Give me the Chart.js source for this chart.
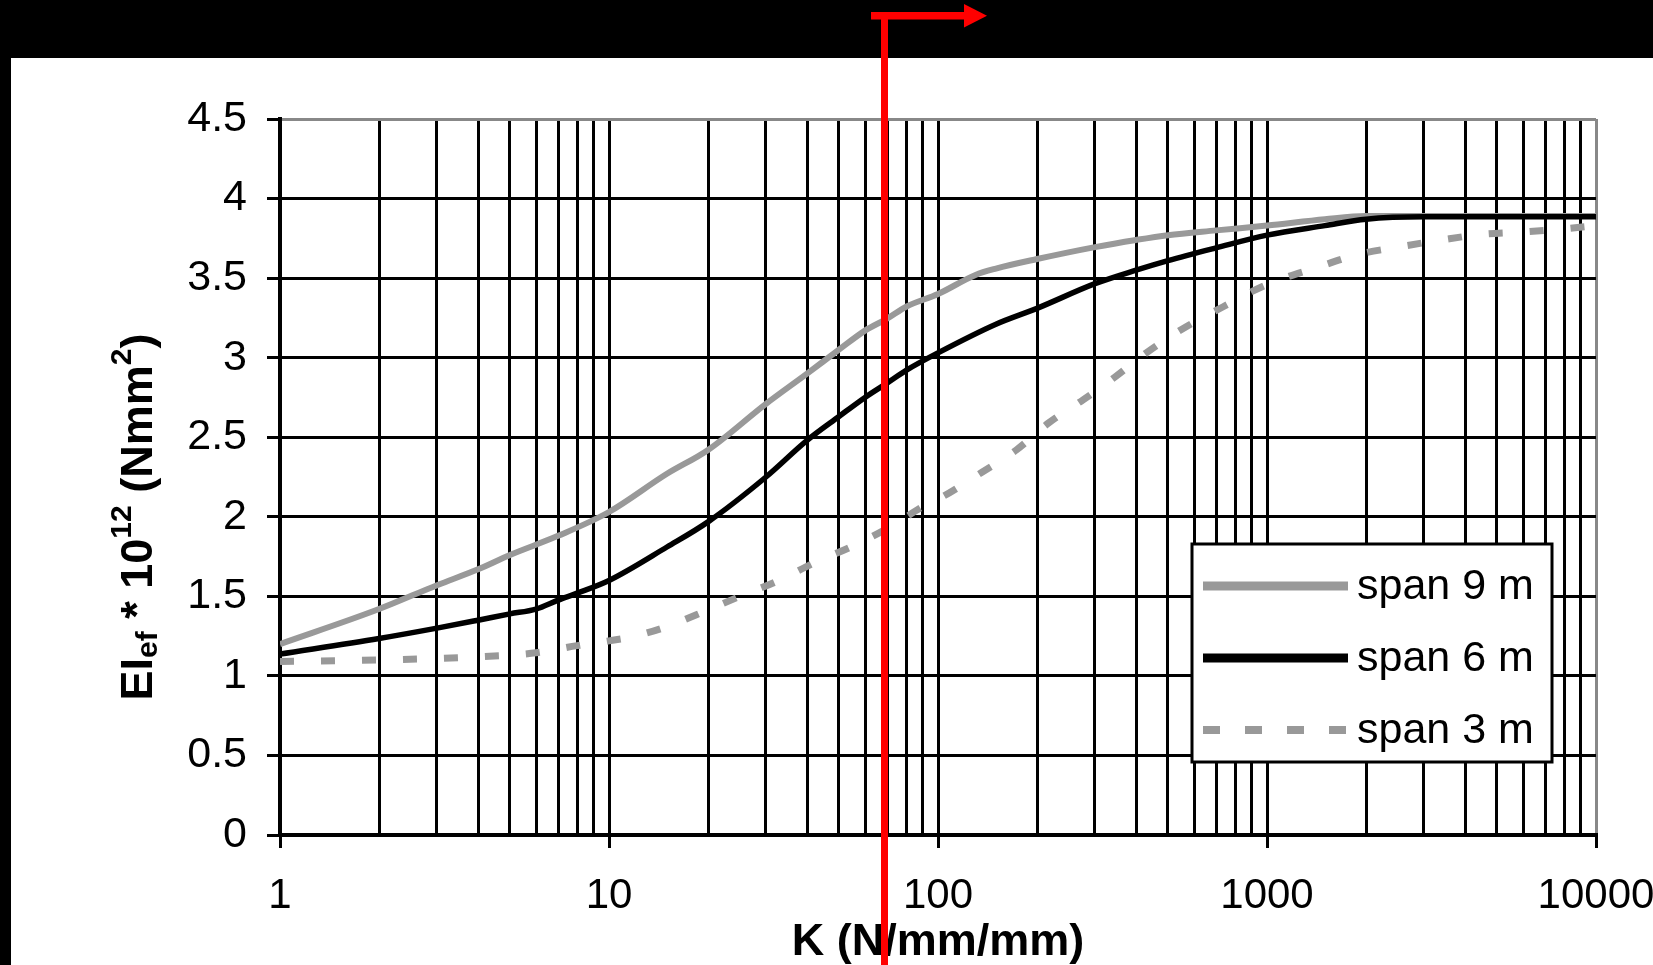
<!DOCTYPE html>
<html>
<head>
<meta charset="utf-8">
<title>EIef vs K</title>
<script src="https://cdn.jsdelivr.net/npm/chart.js@4.4.1/dist/chart.umd.min.js"></script>
<style>
  html, body { margin: 0; padding: 0; background: #000; overflow: hidden; }
  canvas { display: block; }
</style>
</head>
<body>
<canvas id="chart" width="1653" height="965"></canvas>
<script>
const ctx = document.getElementById('chart');

// values (K in N/mm/mm, EIef * 10^12 in Nmm^2)
const k9  = [1, 2, 3, 4, 5, 7, 10, 15, 20, 30, 40, 50, 60, 70, 80, 100, 130, 150, 200, 300, 400, 500, 700, 1000, 1500, 2000, 3000, 5000, 10000];
const ef9 = [1.20, 1.42, 1.57, 1.67, 1.76, 1.88, 2.03, 2.27, 2.42, 2.71, 2.90, 3.05, 3.17, 3.245, 3.32, 3.40, 3.52, 3.56, 3.62, 3.695, 3.74, 3.77, 3.80, 3.83, 3.87, 3.89, 3.89, 3.89, 3.89];

const k6  = [1, 2, 3, 4, 5, 6, 7, 8, 10, 15, 20, 30, 40, 50, 60, 70, 80, 100, 150, 200, 300, 400, 500, 700, 1000, 1500, 2000, 3000, 10000];
const ef6 = [1.137, 1.235, 1.30, 1.35, 1.39, 1.42, 1.476, 1.52, 1.60, 1.81, 1.968, 2.25, 2.48, 2.63, 2.75, 2.84, 2.92, 3.03, 3.21, 3.31, 3.465, 3.55, 3.61, 3.69, 3.77, 3.83, 3.87, 3.885, 3.885];

const k3  = [1, 2, 3, 4, 5, 6, 8, 10, 12, 15, 20, 25, 32, 42, 55, 72, 91, 104, 136, 173, 217, 276, 346, 436, 563, 736, 1000, 1410, 1900, 2500, 3400, 4500, 6000, 8000, 10000];
const ef3 = [1.09, 1.10, 1.11, 1.12, 1.13, 1.145, 1.19, 1.22, 1.25, 1.31, 1.415, 1.50, 1.59, 1.71, 1.815, 1.94, 2.07, 2.13, 2.28, 2.42, 2.59, 2.735, 2.88, 3.04, 3.19, 3.32, 3.46, 3.565, 3.65, 3.695, 3.74, 3.775, 3.79, 3.81, 3.83];

const seriesLabels = ['span 9 m', 'span 6 m', 'span 3 m'];

const yTickValues = [0, 0.5, 1, 1.5, 2, 2.5, 3, 3.5, 4, 4.5];
const yTickLabels = ['0', '0.5', '1', '1.5', '2', '2.5', '3', '3.5', '4', '4.5'];
const xMajor = [1, 10, 100, 1000, 10000];
const xTickLabels = ['1', '10', '100', '1000', '10000'];
const markerK = 69;   // red marker line

// all log grid lines 1,2,...,9,10,20,...,10000
let xGrid = [];
xMajor.forEach(function (d) {
    if (d === 10000) { xGrid.push(d); return; }
    for (let m = 1; m < 10; m++) xGrid.push(d * m);
});

function pts(ks, vs) {
    return ks.map((k, i) => ({ x: k, y: vs[i] }));
}

const FONT = 'Liberation Sans, Arial, Helvetica, sans-serif';
Chart.defaults.font.family = FONT;
Chart.defaults.color = '#000';

// page background: black frame with white picture
const background = {
    id: 'background',
    beforeDraw(chart) {
        const c = chart.ctx;
        c.save();
        c.fillStyle = '#000';
        c.fillRect(0, 0, chart.width, chart.height);
        c.fillStyle = '#fff';
        c.fillRect(11, 58, chart.width - 11, chart.height - 58);
        c.restore();
    }
};

// legend box inside the plot
const boxLegend = {
    id: 'boxLegend',
    afterDatasetsDraw(chart) {
        const c = chart.ctx;
        const L = 1192, T = 544, R = 1552, B = 762;
        c.save();
        c.fillStyle = '#fff';
        c.fillRect(L, T, R - L, B - T);
        c.strokeStyle = '#000';
        c.lineWidth = 3;
        c.strokeRect(L, T, R - L, B - T);
        const rows = [586, 658, 730];
        chart.data.datasets.forEach(function (ds, i) {
            const y = rows[i];
            c.beginPath();
            c.strokeStyle = ds.borderColor;
            c.lineWidth = ds.borderDash ? 8 : 9;
            c.setLineDash(ds.borderDash ? [17, 25] : []);
            c.lineCap = 'butt';
            c.moveTo(1203, y);
            c.lineTo(1348, y);
            c.stroke();
            c.setLineDash([]);
            c.fillStyle = '#000';
            c.font = '43px ' + FONT;
            c.textBaseline = 'middle';
            c.textAlign = 'left';
            c.fillText(ds.label, 1357, y + 1);
        });
        c.restore();
    }
};

// rotated y title with sub- and superscripts
const yTitle = {
    id: 'yTitle',
    afterDraw(chart) {
        const c = chart.ctx;
        const parts = [
            ['EI', 45, 0], ['ef', 30, 5], [' * 10', 45, 0], ['12', 30, -21],
            [' (Nmm', 45, 0], ['2', 30, -21], [')', 45, 0]
        ];
        c.save();
        c.translate(152, 517);
        c.rotate(-Math.PI / 2);
        c.fillStyle = '#000';
        c.textBaseline = 'alphabetic';
        c.textAlign = 'left';
        let total = 0;
        parts.forEach(function (p) {
            c.font = 'bold ' + p[1] + 'px ' + FONT;
            total += c.measureText(p[0]).width;
        });
        let x = -total / 2;
        parts.forEach(function (p) {
            c.font = 'bold ' + p[1] + 'px ' + FONT;
            c.fillText(p[0], x, p[2]);
            x += c.measureText(p[0]).width;
        });
        c.restore();
    }
};

// red marker with arrow at the top
const marker = {
    id: 'marker',
    afterDraw(chart) {
        const c = chart.ctx;
        const px = Math.round(chart.scales.x.getPixelForValue(markerK));
        c.save();
        c.fillStyle = '#ff0000';
        c.fillRect(px - 4, 12, 7, chart.height - 12);
        c.fillRect(px - 14, 12, 94, 7.5);
        c.beginPath();
        c.moveTo(px + 79, 4);
        c.lineTo(px + 102, 15.7);
        c.lineTo(px + 79, 27.5);
        c.closePath();
        c.fill();
        c.restore();
    }
};

const chart = new Chart(ctx, {
    type: 'line',
    data: {
        datasets: [{
            label: seriesLabels[0],
            data: pts(k9, ef9),
            borderColor: '#999999',
            borderWidth: 6,
            order: 3
        }, {
            label: seriesLabels[1],
            data: pts(k6, ef6),
            borderColor: '#000000',
            borderWidth: 5.5,
            order: 2
        }, {
            label: seriesLabels[2],
            data: pts(k3, ef3),
            borderColor: '#999999',
            borderWidth: 7,
            borderDash: [14, 27],
            borderCapStyle: 'butt',
            order: 1
        }]
    },
    options: {
        responsive: false,
        animation: false,
        devicePixelRatio: 1,
        elements: {
            point: { radius: 0 },
            line: { cubicInterpolationMode: 'monotone', fill: false }
        },
        layout: { padding: { top: 119, right: 57, left: 0, bottom: 0 } },
        plugins: {
            legend: { display: false },
            tooltip: { enabled: false }
        },
        scales: {
            x: {
                type: 'logarithmic',
                min: 1,
                max: 10000,
                afterBuildTicks: function (scale) {
                    scale.ticks = xGrid.map(v => ({ value: v }));
                },
                afterFit: function (scale) {
                    scale.height = 130;
                    scale.paddingLeft = 0;
                    scale.paddingRight = 0;
                },
                ticks: {
                    autoSkip: false,
                    maxRotation: 0,
                    padding: 23,
                    font: { size: 42 },
                    callback: function (value) {
                        const i = xMajor.indexOf(value);
                        return i >= 0 ? xTickLabels[i] : '';
                    }
                },
                grid: {
                    color: c => (c.tick && c.tick.value === 10000) ? '#888888' : '#000000',
                    lineWidth: 3,
                    tickLength: 13,
                    tickWidth: 3,
                    tickColor: c => (c.tick && xMajor.indexOf(c.tick.value) >= 0) ? '#000000' : 'rgba(0,0,0,0)'
                },
                border: { color: '#000', width: 4 },
                title: {
                    display: true,
                    text: 'K (N/mm/mm)',
                    font: { size: 45, weight: 'bold', lineHeight: 1 },
                    padding: { top: 0, bottom: 0 }
                }
            },
            y: {
                min: 0,
                max: 4.5,
                afterBuildTicks: function (scale) {
                    scale.ticks = yTickValues.map(v => ({ value: v }));
                },
                afterFit: function (scale) {
                    scale.width = 280;
                    scale.paddingTop = 0;
                    scale.paddingBottom = 0;
                },
                ticks: {
                    padding: 20,
                    font: { size: 43 },
                    callback: function (value) {
                        const i = yTickValues.indexOf(value);
                        return i >= 0 ? yTickLabels[i] : '';
                    }
                },
                grid: {
                    color: c => (c.tick && c.tick.value === 4.5) ? '#888888' : '#000000',
                    lineWidth: 3,
                    tickLength: 13,
                    tickWidth: 3,
                    tickColor: '#000000'
                },
                border: { color: '#000', width: 4 }
            }
        }
    },
    plugins: [background, boxLegend, yTitle, marker]
});
</script>
</body>
</html>
